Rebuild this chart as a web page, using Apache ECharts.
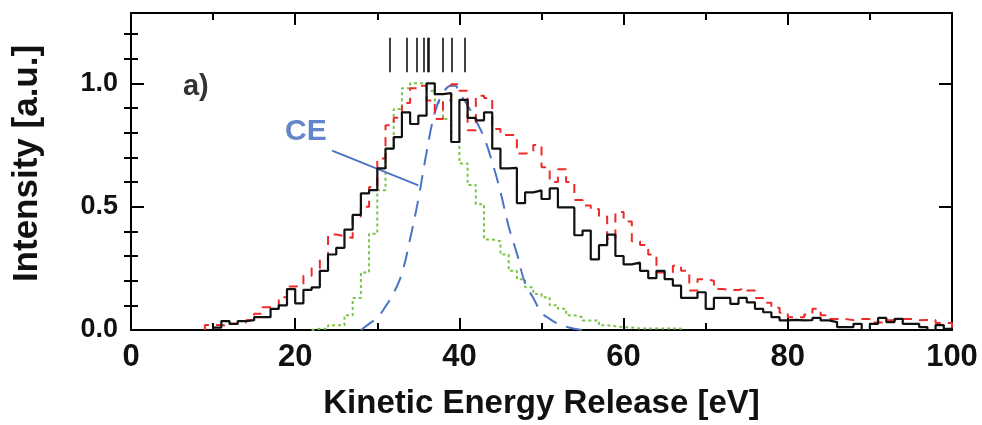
<!DOCTYPE html>
<html>
<head>
<meta charset="utf-8">
<script src="https://cdn.jsdelivr.net/npm/echarts@6/dist/echarts.min.js"></script>
<style>
html,body{margin:0;padding:0;background:#fff;}
#chart{width:982px;height:425px;}
</style>
</head>
<body>
<div id="chart"></div>
<script>
// ---- data ----
const xTickLabels = [0, 20, 40, 60, 80, 100];
const yTickLabels = [0, 0.5, 1.0];
const yMinorTicks = [0.1, 0.2, 0.3, 0.4, 0.6, 0.7, 0.8, 0.9, 1.1, 1.2];

// measured histogram (black solid), 1 eV bins starting at 10 eV
const blackStart = 10;
const blackValues = [
  0.01, 0.036, 0.025, 0.036, 0.04, 0.052, 0.052, 0.086, 0.10, 0.166,
  0.108, 0.163, 0.173, 0.24, 0.306, 0.333, 0.407, 0.467, 0.554, 0.567,
  0.655, 0.735, 0.782, 0.882, 0.835, 0.869, 1.0, 0.956, 0.96, 0.762,
  0.933, 0.86, 0.85, 0.882, 0.735, 0.655, 0.657, 0.514, 0.558, 0.566,
  0.531, 0.574, 0.497, 0.497, 0.384, 0.403, 0.286, 0.344, 0.387, 0.30,
  0.266, 0.273, 0.24, 0.21, 0.24, 0.206, 0.18, 0.13, 0.13, 0.153,
  0.086, 0.13, 0.13, 0.106, 0.13, 0.112, 0.086, 0.072, 0.052, 0.039,
  0.041, 0.039, 0.04, 0.049, 0.039, 0.032, 0.012, 0.012, 0.025, 0.0,
  0.025, 0.049, 0.032, 0.045, 0.025, 0.025, 0.012, 0.0, 0.02, 0.005
];

// red dashed histogram, 1 eV bins starting at 9 eV
const redStart = 9;
const redValues = [
  0.02, 0.02, 0.015, 0.025, 0.03, 0.04, 0.066, 0.092, 0.09, 0.133,
  0.176, 0.18, 0.22, 0.25, 0.285, 0.387, 0.38, 0.373, 0.46, 0.50,
  0.58, 0.695, 0.83, 0.86, 0.92, 0.98, 0.99, 0.93, 0.855, 0.93,
  0.996, 0.97, 0.81, 0.95, 0.94, 0.815, 0.79, 0.79, 0.715, 0.72,
  0.75, 0.66, 0.60, 0.652, 0.60, 0.527, 0.505, 0.49, 0.46, 0.37,
  0.478, 0.44, 0.36, 0.345, 0.306, 0.233, 0.233, 0.26, 0.24, 0.16,
  0.206, 0.20, 0.166, 0.162, 0.162, 0.17, 0.16, 0.13, 0.11, 0.09,
  0.07, 0.052, 0.052, 0.063, 0.086, 0.06, 0.045, 0.045, 0.04, 0.045,
  0.045, 0.03, 0.03, 0.04, 0.045, 0.045, 0.04, 0.041, 0.041, 0.028,
  0.028
];

// green dotted histogram, 1 eV bins starting at 22 eV
const greenStart = 22;
const greenValues = [
  0.005, 0.005, 0.019, 0.019, 0.06, 0.13, 0.233, 0.39, 0.567, 0.735,
  0.896, 0.98, 1.0, 1.0, 0.97, 0.922, 0.855, 0.762, 0.675, 0.588,
  0.51, 0.367, 0.36, 0.306, 0.24, 0.206, 0.173, 0.146, 0.133, 0.10,
  0.086, 0.06, 0.052, 0.039, 0.039, 0.019, 0.015, 0.012, 0.01, 0.006,
  0.006, 0.006, 0.006, 0.006, 0.006
];

// blue dashed CE curve
const blueX = [28, 29, 30, 31, 32, 33, 34, 35, 36, 37, 38, 39, 39.5, 40, 41, 42, 43, 44, 45, 46, 47, 48, 49, 50, 51, 52, 53, 54, 55];
const blueY = [0.0, 0.025, 0.05, 0.095, 0.15, 0.23, 0.37, 0.53, 0.72, 0.88, 0.96, 0.99, 0.99, 0.96, 0.91, 0.85, 0.78, 0.68, 0.56, 0.42, 0.31, 0.19, 0.13, 0.07, 0.045, 0.025, 0.013, 0.005, 0.0];

// vertical marker bars above the peak
const markerX = [31.5, 33.6, 34.8, 35.7, 36.1, 36.3, 38.0, 39.1, 40.6];
const markerBottom = 1.045;
const markerTop = 1.185;

// "CE" pointer line and text
const ceLineStart = [24.5, 0.727];
const ceLineEnd = [35.0, 0.586];
const ceLabelPos = [21.3, 0.805];
const panelLabelPos = [7.9, 0.984];

// ---- build ----
function steps(start, values) {
  const d = [[start, 0]];
  values.forEach((v, i) => d.push([start + i, v]));
  d.push([start + values.length, values[values.length - 1]]);
  d.push([start + values.length, 0]);
  return d;
}

const FONT = "'Liberation Sans', Arial, sans-serif";
const chart = echarts.init(document.getElementById('chart'), null, {renderer: 'canvas'});

const xBase = {
  type: 'value', min: 0, max: 100, interval: 20,
  splitLine: {show: false},
  axisLine: {show: true, onZero: false, lineStyle: {color: '#000', width: 2}},
  axisTick: {show: true, inside: true, length: 12, lineStyle: {color: '#000', width: 2}},
  minorTick: {show: true, splitNumber: 2, length: 7, lineStyle: {color: '#000', width: 2}}
};
const yMin = 0, yMax = 1.285;
const yBase = {
  type: 'value', min: yMin, max: yMax,
  splitLine: {show: false},
  axisLine: {show: true, onZero: false, lineStyle: {color: '#000', width: 2}}
};

const option = {
  animation: false,
  backgroundColor: '#fff',
  grid: {left: 131, right: 30, top: 13, bottom: 92, containLabel: false},
  xAxis: [
    Object.assign({}, xBase, {
      position: 'bottom',
      name: 'Kinetic Energy Release [eV]',
      nameLocation: 'middle', nameGap: 57,
      nameTextStyle: {fontFamily: FONT, fontWeight: 'bold', fontSize: 33, color: '#111'},
      axisLabel: {show: true, margin: 12, fontFamily: FONT, fontWeight: 'bold', fontSize: 31, color: '#111',
        customValues: xTickLabels}
    }),
    Object.assign({}, xBase, {position: 'top', axisLabel: {show: false}})
  ],
  yAxis: [
    Object.assign({}, yBase, {
      position: 'left',
      name: 'Intensity [a.u.]', nameLocation: 'middle', nameGap: 86,
      nameTextStyle: {fontFamily: FONT, fontWeight: 'bold', fontSize: 35, color: '#111', padding: [0, 0, 0, 16]},
      axisLabel: {show: true, margin: 13, fontFamily: FONT, fontWeight: 'bold', fontSize: 27, color: '#111',
        customValues: yTickLabels, formatter: v => v.toFixed(1)},
      axisTick: {show: true, inside: true, length: 13, customValues: yTickLabels, lineStyle: {color: '#000', width: 2}}
    }),
    Object.assign({}, yBase, {
      position: 'left', axisLine: {show: false}, axisLabel: {show: false},
      axisTick: {show: true, inside: true, length: 7, customValues: yMinorTicks, lineStyle: {color: '#000', width: 2}}
    }),
    Object.assign({}, yBase, {
      position: 'right', axisLabel: {show: false},
      axisTick: {show: true, inside: true, length: 13, customValues: yTickLabels, lineStyle: {color: '#000', width: 2}}
    }),
    Object.assign({}, yBase, {
      position: 'right', axisLine: {show: false}, axisLabel: {show: false},
      axisTick: {show: true, inside: true, length: 7, customValues: yMinorTicks, lineStyle: {color: '#000', width: 2}}
    })
  ],
  series: [
    {
      name: 'green', type: 'line', step: 'end', symbol: 'none', z: 2,
      data: steps(greenStart, greenValues),
      lineStyle: {color: '#7cc24a', width: 2, type: [3, 3]}
    },
    {
      name: 'blue', type: 'line', smooth: 0.4, symbol: 'none', z: 3,
      data: blueX.map((x, i) => [x, blueY[i]]),
      lineStyle: {color: '#4c74c6', width: 2, type: [16, 10]}
    },
    {
      name: 'red', type: 'line', step: 'end', symbol: 'none', z: 4,
      data: steps(redStart, redValues),
      lineStyle: {color: '#ee2a2a', width: 2, type: [9, 7]}
    },
    {
      name: 'black', type: 'line', step: 'end', symbol: 'none', z: 5,
      data: steps(blackStart, blackValues),
      lineStyle: {color: '#111', width: 2.2},
      markLine: {
        silent: true, symbol: ['none', 'none'], animation: false,
        label: {show: false},
        lineStyle: {color: '#111', width: 1.6, type: 'solid'},
        data: markerX.map(x => [{coord: [x, markerBottom]}, {coord: [x, markerTop]}])
          .concat([[
            {coord: ceLineStart, lineStyle: {color: '#4c74c6', width: 2}},
            {coord: ceLineEnd}
          ]])
      }
    },
    {
      name: 'labels', type: 'scatter', symbolSize: 0, z: 6, silent: true,
      data: [
        {value: ceLabelPos, label: {show: true, position: 'inside', formatter: 'CE',
          fontFamily: FONT, fontWeight: 'bold', fontSize: 30, color: '#3f66bb'}},
        {value: panelLabelPos, label: {show: true, position: 'inside', formatter: 'a)',
          fontFamily: FONT, fontWeight: 'bold', fontSize: 29, color: '#000'}}
      ]
    }
  ]
};
chart.setOption(option);
</script>
</body>
</html>
